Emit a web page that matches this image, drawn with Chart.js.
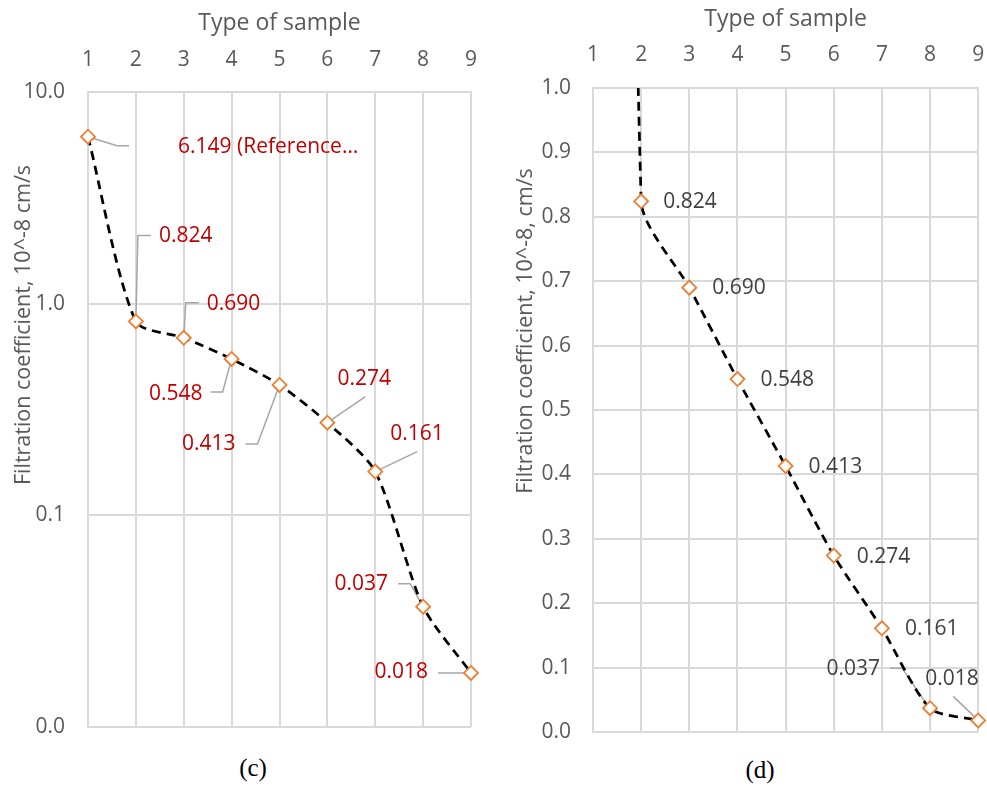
<!DOCTYPE html>
<html>
<head>
<meta charset="utf-8">
<title>Filtration coefficient</title>
<script src="https://cdn.jsdelivr.net/npm/chart.js@4"></script>
<style>
  body { margin: 0; background: #fff; width: 987px; height: 787px; position: relative; overflow: hidden; }
  .box { position: absolute; top: 0; }
  .cap { position: absolute; font-family: "Liberation Serif", "DejaVu Serif", serif; font-size: 25px; color: #000; transform: translate(-50%, -50%); }
</style>
</head>
<body>
<div class="box" style="left:0"><canvas id="chartC" width="490" height="745"></canvas></div>
<div class="box" style="left:490px"><canvas id="chartD" width="497" height="745"></canvas></div>
<div class="cap" style="left:253px; top:768px">(c)</div>
<div class="cap" style="left:760px; top:770px">(d)</div>

<script>
// data
const samples = [1, 2, 3, 4, 5, 6, 7, 8, 9];
const filtration = [6.149, 0.824, 0.690, 0.548, 0.413, 0.274, 0.161, 0.037, 0.018];
const labelTexts = ["6.149 (Reference\u2026", "0.824", "0.690", "0.548", "0.413", "0.274", "0.161", "0.037", "0.018"];
const logTicks = [0.01, 0.1, 1, 10];
const linTicks = [0, 0.1, 0.2, 0.3, 0.4, 0.5, 0.6, 0.7, 0.8, 0.9, 1.0];

// label placement (pixels, relative to each point)
const labelLayoutC = [
  { dx: 90, dy: 10, align: "left", leader: [[0, 0], [29, 9], [41, 9]] },
  { dx: 23, dy: -85, align: "left", leader: [[0, 0], [2, -86], [15, -86]] },
  { dx: 23, dy: -34, align: "left", leader: [[0, 0], [2, -35], [15, -35]] },
  { dx: -29, dy: 35, align: "right", leader: [[0, 0], [-9, 33], [-21, 33]] },
  { dx: -44, dy: 59, align: "right", leader: [[0, 0], [-22, 59], [-34, 59]] },
  { dx: 10, dy: -44, align: "left", leader: [[0, 0], [38, -26]] },
  { dx: 15, dy: -38, align: "left", leader: [[0, 0], [42, -20]] },
  { dx: -35, dy: -23, align: "right", leader: [[0, 0], [-13, -23], [-25, -23]] },
  { dx: -43, dy: -1, align: "right", leader: [[-5, 0], [-33, 0]] },
];
const labelLayoutD = [
  null,
  { dx: 22, dy: 1, align: "left" },
  { dx: 23, dy: 0, align: "left" },
  { dx: 23, dy: 1, align: "left" },
  { dx: 23, dy: 1, align: "left" },
  { dx: 23, dy: 1, align: "left" },
  { dx: 23, dy: 1, align: "left" },
  { dx: -50, dy: -39, align: "right", leader: [[-2, -2], [-28, -40], [-40, -40]] },
  { dx: -53, dy: -41, align: "left", leader: [[-25, -24], [-2, -2]] },
];

Chart.defaults.font.family = "'Open Sans', 'DejaVu Sans', sans-serif";
Chart.defaults.color = "#595959";

const GRID = "#D9D9D9";
const points = samples.map((s, i) => ({ x: s, y: filtration[i] }));

const pointLabels = {
  id: "pointLabels",
  beforeDatasetsDraw(chart, args, opts) {
    const ctx = chart.ctx;
    const meta = chart.getDatasetMeta(0);
    ctx.save();
    ctx.strokeStyle = "#A6A6A6";
    ctx.lineWidth = 1.5;
    opts.layout.forEach((l, i) => {
      if (!l || !l.leader) return;
      const p = meta.data[i];
      ctx.beginPath();
      l.leader.forEach(([lx, ly], k) => {
        if (k === 0) ctx.moveTo(p.x + lx, p.y + ly);
        else ctx.lineTo(p.x + lx, p.y + ly);
      });
      ctx.stroke();
    });
    ctx.restore();
  },
  afterDatasetsDraw(chart, args, opts) {
    const ctx = chart.ctx;
    const meta = chart.getDatasetMeta(0);
    ctx.save();
    ctx.fillStyle = opts.color;
    ctx.font = "21px 'Open Sans'";
    ctx.textBaseline = "middle";
    opts.layout.forEach((l, i) => {
      if (!l) return;
      const p = meta.data[i];
      ctx.textAlign = l.align;
      ctx.fillText(labelTexts[i], p.x + l.dx, p.y + l.dy);
    });
    ctx.restore();
  },
};

const yTitle = {
  id: "yTitle",
  afterDraw(chart, args, opts) {
    const ctx = chart.ctx;
    ctx.save();
    ctx.translate(opts.x, opts.y);
    ctx.rotate(-Math.PI / 2);
    ctx.fillStyle = "#595959";
    ctx.font = "21.5px 'Open Sans'";
    ctx.textAlign = "center";
    ctx.textBaseline = "middle";
    ctx.fillText(opts.text, 0, 0);
    ctx.restore();
  },
};

function makeChart(id, cfg) {
  return new Chart(document.getElementById(id), {
    type: "line",
    data: {
      datasets: [
        {
          data: points,
          borderColor: "#000",
          borderWidth: 2.75,
          borderDash: [9, 6],
          tension: 0.25,
          pointStyle: "rectRot",
          pointRadius: 7,
          pointBorderWidth: 1.8,
          pointBorderColor: "#ED7D31",
          pointBackgroundColor: "#fff",
          clip: cfg.clip,
        },
      ],
    },
    options: {
      responsive: false,
      animation: false,
      layout: { padding: cfg.padding },
      plugins: {
        legend: { display: false },
        tooltip: { enabled: false },
        pointLabels: { layout: cfg.labels, color: cfg.labelColor },
        yTitle: cfg.yTitle,
      },
      scales: {
        x: {
          type: "linear",
          position: "top",
          min: 1,
          max: 9,
          afterBuildTicks: (s) => { s.ticks = samples.map((v) => ({ value: v })); },
          afterFit: (s) => { s.height = cfg.xHeight; s.paddingLeft = 0; s.paddingRight = 0; },
          ticks: { font: { size: 21 }, padding: cfg.xTickPad, maxRotation: 0, callback: (v) => String(v) },
          grid: { color: GRID, lineWidth: 2, drawTicks: false },
          border: { color: GRID, width: 2 },
          title: {
            display: true,
            text: "Type of sample",
            font: { size: 23 },
            padding: { top: cfg.titlePad, bottom: 0 },
          },
        },
        y: Object.assign(
          {
            afterFit: (s) => { s.width = cfg.yWidth; s.paddingTop = 0; s.paddingBottom = 0; },
            ticks: { font: { size: 21 }, padding: cfg.yTickPad, callback: (v) => Number(v).toFixed(1) },
            grid: { color: GRID, lineWidth: 2, drawTicks: false },
            border: { color: GRID, width: 2 },
          },
          cfg.y
        ),
      },
    },
    plugins: [pointLabels, yTitle],
  });
}

makeChart("chartC", {
  padding: { left: 0, right: 19, top: 0, bottom: 18 },
  clip: { left: 10, right: 10, top: 10, bottom: 10 },
  xHeight: 92,
  xTickPad: 19,
  titlePad: 10,
  yWidth: 88,
  yTickPad: 23,
  labels: labelLayoutC,
  labelColor: "#C00000",
  yTitle: { text: "Filtration coefficient, 10^-8 cm/s", x: 24, y: 325 },
  y: {
    type: "logarithmic",
    min: 0.01,
    max: 10,
    afterBuildTicks: (s) => { s.ticks = logTicks.map((v) => ({ value: v })); },
  },
});

makeChart("chartD", {
  padding: { left: 0, right: 6, top: 0, bottom: 13 },
  clip: { left: 10, right: 10, top: 0, bottom: 10 },
  xHeight: 88,
  xTickPad: 20,
  titlePad: 6,
  yWidth: 103,
  yTickPad: 22,
  labels: labelLayoutD,
  labelColor: "#404040",
  yTitle: { text: "Filtration coefficient, 10^-8, cm/s", x: 36, y: 331 },
  y: {
    type: "linear",
    min: 0,
    max: 1,
    afterBuildTicks: (s) => { s.ticks = linTicks.map((v) => ({ value: v })); },
  },
});
</script>
</body>
</html>
